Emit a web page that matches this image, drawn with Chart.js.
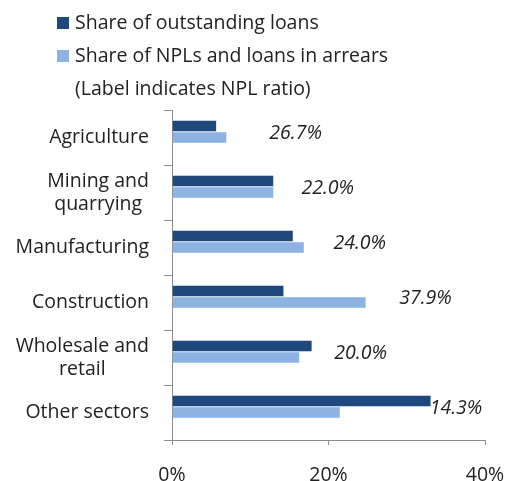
<!DOCTYPE html>
<html>
<head>
<meta charset="utf-8">
<script src="https://cdn.jsdelivr.net/npm/chart.js@4.4.1/dist/chart.umd.min.js"></script>
<style>
  html, body { margin: 0; padding: 0; background: #fff; }
  #wrap { width: 506px; height: 481px; }
</style>
</head>
<body>
<div id="wrap"><canvas id="npl"></canvas></div>
<script>
var sectors = [['Agriculture'], ['Mining and', 'quarrying'], ['Manufacturing'], ['Construction'], ['Wholesale and', 'retail'], ['Other sectors']];
var loanShare = [5.7, 13.0, 15.5, 14.3, 17.9, 33.1];
var nplShare = [7.0, 13.0, 16.9, 24.8, 16.3, 21.5];
var nplRatio = ['26.7%', '22.0%', '24.0%', '37.9%', '20.0%', '14.3%'];
// hidden series that carries the ratio labels (as in the original sheet)
var labelPos = [15.8, 19.9, 24.0, 32.4, 24.1, 36.3];
var xTicks = [0, 20, 40];

var FONT = '"Open Sans", "DejaVu Sans", sans-serif';
var SIZE = 19.5;
var TEXT = '#222222';
var AXIS = '#8c8c8c';

// legend + sector names + ratio labels
var extras = {
  id: 'extras',
  afterDraw: function (chart) {
    var ctx = chart.ctx;
    var ds = chart.data.datasets;
    var area = chart.chartArea;
    ctx.save();
    ctx.fillStyle = TEXT;
    ctx.textBaseline = 'middle';

    // legend
    ctx.font = SIZE + 'px ' + FONT;
    ctx.textAlign = 'left';
    var rows = [ds[0], ds[1], null];
    var rowY = [23, 56, 89];
    rows.forEach(function (d, i) {
      if (d) {
        ctx.fillStyle = d.backgroundColor;
        ctx.fillRect(57, rowY[i] - 6, 12, 12);
        ctx.fillStyle = TEXT;
        ctx.fillText(d.label, 75, rowY[i]);
      } else {
        ctx.fillText('(Label indicates NPL ratio)', 75, rowY[i]);
      }
    });

    // category names, lines centred inside a right-aligned block
    var yScale = chart.scales.y;
    var right = area.left - 23;
    var lh = 23;
    sectors.forEach(function (lines, i) {
      var w = 0;
      lines.forEach(function (s) { w = Math.max(w, ctx.measureText(s).width); });
      var cy = yScale.getPixelForValue(i);
      var y0 = cy - (lines.length - 1) * lh / 2;
      ctx.textAlign = 'center';
      lines.forEach(function (s, k) {
        ctx.fillText(s, right - w / 2, y0 + k * lh);
      });
    });

    // NPL ratio labels
    ctx.font = 'italic ' + SIZE + 'px ' + FONT;
    ctx.textAlign = 'center';
    var m0 = chart.getDatasetMeta(0).data;
    var xScale = chart.scales.x;
    nplRatio.forEach(function (t, i) {
      var b = m0[i];
      var y = b.y + b.height / 2 + 2;
      ctx.fillText(t, xScale.getPixelForValue(labelPos[i]), y);
    });
    ctx.restore();
  }
};

var ctx = document.getElementById('npl');
var chart = new Chart(ctx, {
  type: 'bar',
  data: {
    labels: sectors,
    datasets: [{
      label: 'Share of outstanding loans',
      data: loanShare,
      backgroundColor: '#1f497d',
      borderColor: '#c6d3e6',
      borderWidth: 0.5
    },
    {
      label: 'Share of NPLs and loans in arrears',
      data: nplShare,
      backgroundColor: '#8db3e2',
      borderColor: '#d3e2f4',
      borderWidth: 0.5
    },
    {
      label: 'NPL ratio',
      data: labelPos,
      backgroundColor: 'rgba(0,0,0,0)',
      borderWidth: 0
    }]
  },
  options: {
    indexAxis: 'y',
    responsive: true,
    maintainAspectRatio: false,
    animation: false,
    devicePixelRatio: 1,
    categoryPercentage: 0.627,
    barPercentage: 1.0,
    layout: { padding: { top: 110, right: 21, left: 0, bottom: 0 } },
    plugins: {
      legend: { display: false },
      tooltip: { enabled: false }
    },
    scales: {
      x: {
        min: 0,
        max: 40,
        afterBuildTicks: function (scale) {
          scale.ticks = xTicks.map(function (v) { return { value: v }; });
        },
        afterFit: function (scale) {
          scale.height = 41;
          scale.paddingLeft = 0;
          scale.paddingRight = 0;
        },
        grid: { drawOnChartArea: false, color: AXIS, tickLength: 5 },
        border: { color: AXIS },
        ticks: {
          padding: 19,
          color: TEXT,
          font: { family: FONT, size: SIZE },
          callback: function (v) { return v + '%'; }
        }
      },
      y: {
        afterFit: function (scale) { scale.width = 172; },
        grid: { drawOnChartArea: false, color: AXIS, tickLength: 8, offset: true },
        border: { color: AXIS },
        ticks: { display: false }
      }
    }
  },
  plugins: [extras]
});
</script>
</body>
</html>
